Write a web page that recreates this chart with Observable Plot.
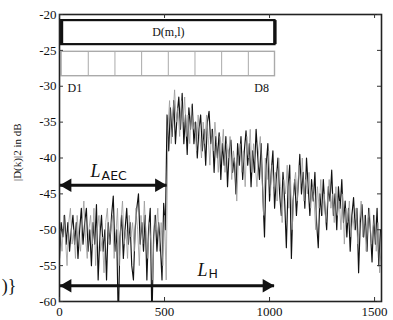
<!DOCTYPE html>
<html>
<head>
<meta charset="utf-8">
<script src="https://cdn.jsdelivr.net/npm/d3@7"></script>
<script src="https://cdn.jsdelivr.net/npm/@observablehq/plot@0.6"></script>
<style>
  html, body { margin: 0; padding: 0; background: #fff; }
  #chart svg { display: block; }
</style>
</head>
<body>
<div id="chart"></div>
<script>
// ---- data ----
const xTicks = [0, 500, 1000, 1500];
const yTicks = [-20, -25, -30, -35, -40, -45, -50, -55, -60];
const sampleStep = 8;

// |D(k)|^2 in dB, black trace, k = 0, 8, 16, ...
const blackTrace = [
  -54, -49, -51, -48, -52, -49, -53, -50, -48, -52, -49, -54, -50, -47, -52, -49,
  -47, -53, -50, -55, -49, -52, -46.5, -57, -51, -48, -53, -50, -57, -49, -52, -48,
  -45.3, -53, -50, -63, -51, -48, -54, -50, -47, -52, -49, -55, -57, -50, -47, -45,
  -52, -49, -53, -48, -57, -50, -47, -63, -51, -48, -53, -49, -52, -57, -46.3, -50,
  -34, -39, -33, -37, -32, -38, -34, -31.5, -36, -31, -38, -34, -39.5, -33, -36, -32.5,
  -38, -35, -40, -36, -34, -39, -36, -41, -35, -33.5, -38, -36, -42, -37, -40, -36.5,
  -43, -38, -41, -37, -44, -39, -37.5, -42, -40, -45, -38, -41, -37, -43, -39, -36.2,
  -41, -38, -44, -39, -42, -36, -40, -43, -38, -45, -51, -41, -38, -46, -42, -39,
  -47, -43, -40, -45, -48, -42, -46, -52.5, -44, -41, -54, -46, -43, -48, -44, -39.5,
  -45, -42, -47, -40, -44, -48, -43, -46, -42, -49, -52.5, -45, -48, -43, -47, -50,
  -44, -46, -41.7, -48, -45, -50, -44, -47, -43, -49, -46, -51, -47, -53, -48, -45.5,
  -50, -47, -56, -49, -46.5, -51, -48, -53, -47, -50, -54.5, -48, -52, -47, -55, -50
];
// gray trace, k = 4, 12, 20, ...
const grayTrace = [
  -50, -53, -48, -51, -55, -49, -47, -52, -50, -54, -48, -51, -53, -49, -46, -51,
  -54, -50, -48, -52, -47, -55, -50, -48, -53, -51, -56, -49, -47, -52, -50, -48,
  -54, -51, -47, -55, -49, -46, -52, -50, -54, -48, -51, -49, -53, -47, -50, -55,
  -48, -52, -46, -51, -54, -49, -52, -57, -48, -50, -47, -53, -49, -55, -48, -57,
  -36, -32, -38, -34, -30.5, -35, -33, -37, -32, -35, -31.5, -37, -34, -38, -33, -36,
  -35, -39, -34, -37, -40, -35, -38, -34, -37, -41, -36, -39, -35, -38, -42, -37,
  -39, -36, -42, -38, -40, -37, -43, -39, -41, -46, -40, -38, -42, -39, -44, -37,
  -40, -36, -42, -38, -41, -44, -39, -37, -42, -48, -40, -43, -39, -45, -41, -44,
  -42, -46, -40, -44, -49, -43, -45, -41, -47, -43, -50, -44, -42, -46, -41, -44,
  -40, -46, -43, -45, -42, -47, -44, -46, -50, -44, -47, -43, -48, -45, -49, -46,
  -43, -47, -45, -49, -44, -48, -46, -50, -45, -52, -47, -49, -46, -51, -48, -50,
  -47, -52, -49, -46, -51, -48, -53, -49, -47, -52, -50, -48, -53, -49, -56, -52
];

// schematic above the curve
const blockStart = 10;
const blockLength = 127;
const blockCount = 8;
const blockLabels = ["D1", "D8"];
const topBoxLabel = "D(m,l)";
const topBox = { y1: -24.2, y2: -20.85 };
const gridBox = { y1: -28.6, y2: -25.2 };
const blockLabelY = -30.3;

// arrows
const arrows = [
  { name: "AEC", x1: 0, x2: 512, y: -43.8, labelX: 148, dyL: -8, dyS: -5 },
  { name: "H", x1: 0, x2: 1024, y: -57.8, labelX: 657, dyL: -10, dyS: -8 }
];

const yLabel = "|D(k)|2 in dB";
const yLabelCenter = -39.2;
const cutText = ")}";

// ---- build ----
const W = 393, H = 320;
const mL = 59, mR = 12, mT = 14, mB = 19;
const plotW = W - mL - mR, plotH = H - mT - mB;

const black = blackTrace.map((v, i) => ({ k: i * sampleStep, v }));
const gray = grayTrace.map((v, i) => ({ k: i * sampleStep + sampleStep / 2, v }));
const dividers = d3.range(1, blockCount).map(i => blockStart + i * blockLength);
const blockEnd = blockStart + blockCount * blockLength;
const blockTexts = [
  { t: blockLabels[0], x: blockStart + blockLength / 2 },
  { t: blockLabels[1], x: blockStart + blockLength * (blockCount - 0.5) }
];

const serif = "Liberation Serif";
const sans = "DejaVu Sans";

const labelMarks = arrows.flatMap(a => [
  Plot.text([a], { x: "labelX", y: "y", text: () => "L", textAnchor: "start", lineAnchor: "bottom", dy: a.dyL, fontSize: 18, fontStyle: "italic", fontFamily: serif, fill: "#111" }),
  Plot.text([a], { x: "labelX", y: "y", text: "name", textAnchor: "start", lineAnchor: "bottom", dx: 11, dy: a.dyS, fontSize: 12.5, fontFamily: sans, fill: "#111" })
]);

const chart = Plot.plot({
  width: W, height: H,
  marginLeft: mL, marginRight: mR, marginTop: mT, marginBottom: mB,
  x: { domain: [0, 1533] },
  y: { domain: [-60, -20] },
  style: { fontFamily: serif, fontSize: "13px", background: "#fff", color: "#111" },
  marks: [
    // curves
    Plot.line(black, { x: "k", y: "v", stroke: "#111", strokeWidth: 1.15, clip: true }),
    Plot.line(gray, { x: "k", y: "v", stroke: "#999", strokeWidth: 0.8, clip: true }),
    // schematic
    Plot.rect([topBox], { x1: blockStart, x2: blockEnd, y1: "y1", y2: "y2", stroke: "#111", strokeWidth: 2.2, fill: "none" }),
    Plot.ruleX([blockStart, blockEnd], { x: d => d, y1: topBox.y1, y2: topBox.y2, stroke: "#111", strokeWidth: 3.2 }),
    Plot.rect([gridBox], { x1: blockStart, x2: blockEnd, y1: "y1", y2: "y2", stroke: "#aaa", strokeWidth: 1.4, fill: "none" }),
    Plot.ruleX(dividers, { x: d => d, y1: gridBox.y1, y2: gridBox.y2, stroke: "#aaa", strokeWidth: 1 }),
    Plot.text([topBoxLabel], { x: (blockStart + blockEnd) / 2, y: (topBox.y1 + topBox.y2) / 2, text: d => d, fontSize: 12, fontFamily: serif, fill: "#111" }),
    Plot.text(blockTexts, { x: "x", y: blockLabelY, text: "t", fontSize: 12, fontFamily: serif, fill: "#111" }),
    // arrows
    Plot.ruleY(arrows, { y: "y", x1: "x1", x2: "x2", stroke: "#111", strokeWidth: 3 }),
    Plot.dot(arrows, { x: "x1", y: "y", symbol: "triangle", r: 5, rotate: -90, dx: 8, fill: "#111", stroke: "none" }),
    Plot.dot(arrows, { x: "x2", y: "y", symbol: "triangle", r: 5, rotate: 90, dx: -8, fill: "#111", stroke: "none" }),
    ...labelMarks,
    // frame & inward ticks
    Plot.frame({ stroke: "#222", strokeWidth: 1.6 }),
    Plot.ruleX(xTicks, { x: d => d, insetTop: plotH - 4, stroke: "#333" }),
    Plot.ruleX(xTicks, { x: d => d, insetBottom: plotH - 4, stroke: "#333" }),
    Plot.ruleY(yTicks, { y: d => d, insetRight: plotW - 4, stroke: "#333" }),
    Plot.ruleY(yTicks, { y: d => d, insetLeft: plotW - 4, stroke: "#333" }),
    // axis labels
    Plot.axisX({ ticks: xTicks, tickSize: 0, tickPadding: 5, tickFormat: d => `${d}`, label: null, fontSize: 13, fontFamily: serif, fill: "#111" }),
    Plot.axisY({ ticks: yTicks, tickSize: 0, tickPadding: 3, tickFormat: d => `${d}`, label: null, fontSize: 13, fontFamily: serif, fill: "#111" }),
    Plot.text([yLabel], { y: () => yLabelCenter, frameAnchor: "left", textAnchor: "middle", dx: -42, rotate: -90, text: d => d, fontSize: 11, fontFamily: serif, fill: "#111" }),
    Plot.text([cutText], { frameAnchor: "bottom-left", dx: -43, dy: -10, textAnchor: "end", text: d => d, fontSize: 18, fontFamily: serif, fill: "#111" })
  ]
});
document.getElementById("chart").appendChild(chart);
</script>
</body>
</html>
